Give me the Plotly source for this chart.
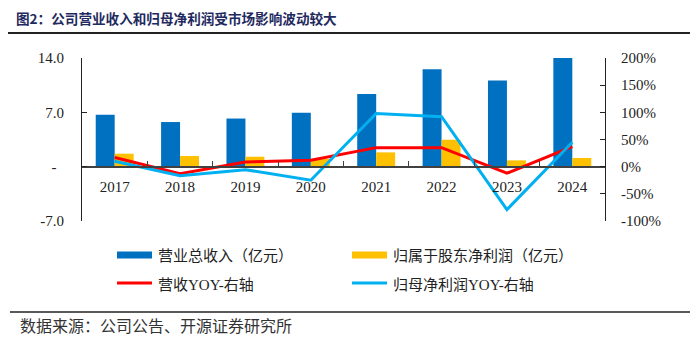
import plotly.graph_objects as go

years = ["2017", "2018", "2019", "2020", "2021", "2022", "2023", "2024"]
revenue = [6.7, 5.75, 6.2, 6.95, 9.35, 12.55, 11.1, 14.0]          # 营业总收入（亿元）
net_profit = [1.67, 1.37, 1.28, 1.0, 1.84, 3.47, 0.81, 1.12]      # 归属于股东净利润（亿元）
rev_yoy = [17, -13, 8.5, 12, 35, 35, -12, 37]                     # 营收YOY（%）
np_yoy = [10, -16.5, -5.5, -25, 98, 92, -79, 45]                  # 归母净利润YOY（%）

left_ticks = [-7, 0, 7, 14]
left_text = ["-7.0", "-\u00a0\u00a0", "7.0", "14.0"]
right_ticks = [-100, -50, 0, 50, 100, 150, 200]
right_text = [f"{v}%" for v in right_ticks]

title = "图2：公司营业收入和归母净利润受市场影响波动较大"
source = "数据来源：公司公告、开源证券研究所"
legend_names = ["营业总收入（亿元）", "归属于股东净利润（亿元）", "营收YOY-右轴", "归母净利润YOY-右轴"]

BLUE = "#0070C0"
YELLOW = "#FFC000"
RED = "#FF0000"
LBLUE = "#00B0F0"

W, H = 700, 340
L, R, T, B = 82, 605, 58, 221


def px(x):
    return (x - L) / (R - L)


def py(y):
    return (B - y) / (B - T)


fig = go.Figure()
fig.add_trace(go.Bar(x=years, y=revenue, name=legend_names[0], marker=dict(color=BLUE, line=dict(width=0))))
fig.add_trace(go.Bar(x=years, y=net_profit, name=legend_names[1], marker=dict(color=YELLOW, line=dict(width=0))))
fig.add_trace(go.Scatter(x=years, y=rev_yoy, name=legend_names[2], mode="lines",
                         line=dict(color=RED, width=3), yaxis="y2"))
fig.add_trace(go.Scatter(x=years, y=np_yoy, name=legend_names[3], mode="lines",
                         line=dict(color=LBLUE, width=3), yaxis="y2"))

serif = "Liberation Serif, Times New Roman, serif"
cjk = "Noto Sans CJK SC, sans-serif"

fig.update_layout(
    width=W, height=H,
    margin=dict(l=L, r=W - R, t=T, b=H - B, pad=0),
    paper_bgcolor="white", plot_bgcolor="white",
    showlegend=False,
    barmode="group", bargap=0.42, bargroupgap=0,
    xaxis=dict(
        type="category", anchor="free", position=7 / 21,
        showline=True, linecolor="#404040", linewidth=1.5,
        ticks="inside", ticklen=5, tickcolor="#404040", tickson="boundaries",
        showgrid=False, zeroline=False,
        tickfont=dict(family=serif, size=15, color="#222"),
        ticklabelstandoff=7,
    ),
    yaxis=dict(
        range=[-7, 14], tickvals=left_ticks, ticktext=left_text,
        showline=True, linecolor="#222", linewidth=1,
        ticks="inside", ticklen=5, tickcolor="#222",
        showgrid=False, zeroline=False,
        tickfont=dict(family=serif, size=15, color="#222"),
        ticklabelstandoff=14,
    ),
    yaxis2=dict(
        range=[-100, 200], tickvals=right_ticks, ticktext=right_text,
        overlaying="y", side="right",
        showline=True, linecolor="#222", linewidth=1,
        ticks="inside", ticklen=5, tickcolor="#222",
        showgrid=False, zeroline=False,
        tickfont=dict(family=serif, size=15, color="#222"),
        ticklabelstandoff=12,
    ),
)

shapes = []
annotations = []

# title and separator lines
annotations.append(dict(text="<b>" + title + "</b>", x=px(14), y=py(18), xref="paper", yref="paper",
                        xanchor="left", yanchor="middle", showarrow=False,
                        font=dict(family=cjk, size=13.6, color="#1F2A60")))
shapes.append(dict(type="line", xref="paper", yref="paper", x0=px(8), x1=px(690), y0=py(33), y1=py(33),
                   line=dict(color="#222", width=2)))
shapes.append(dict(type="line", xref="paper", yref="paper", x0=px(10), x1=px(690), y0=py(312), y1=py(312),
                   line=dict(color="#222", width=1.5)))
annotations.append(dict(text=source, x=px(18), y=py(325), xref="paper", yref="paper",
                        xanchor="left", yanchor="middle", showarrow=False,
                        font=dict(family=cjk, size=16, color="#333")))


def legend_label(name):
    if "YOY" in name:
        head, tail = name.split("YOY-")
        return (head + '<span style="font-family:Liberation Serif">YOY-</span>' + tail)
    return name


# manual legend
legend_items = [
    (legend_names[0], BLUE, "bar", 117, 255),
    (legend_names[1], YELLOW, "bar", 352, 255),
    (legend_names[2], RED, "line", 117, 283),
    (legend_names[3], LBLUE, "line", 352, 283),
]
for name, color, kind, x0, yc in legend_items:
    if kind == "bar":
        shapes.append(dict(type="rect", xref="paper", yref="paper", x0=px(x0), x1=px(x0 + 35),
                           y0=py(yc + 3.5), y1=py(yc - 3.5), fillcolor=color, line=dict(width=0)))
    else:
        shapes.append(dict(type="line", xref="paper", yref="paper", x0=px(x0), x1=px(x0 + 35),
                           y0=py(yc), y1=py(yc), line=dict(color=color, width=3)))
    annotations.append(dict(text=legend_label(name), x=px(x0 + 39), y=py(yc), xref="paper", yref="paper",
                            xanchor="left", yanchor="middle", showarrow=False,
                            font=dict(family=cjk, size=15, color="#222")))

fig.update_layout(shapes=shapes, annotations=annotations)
fig.write_html("out.html")
